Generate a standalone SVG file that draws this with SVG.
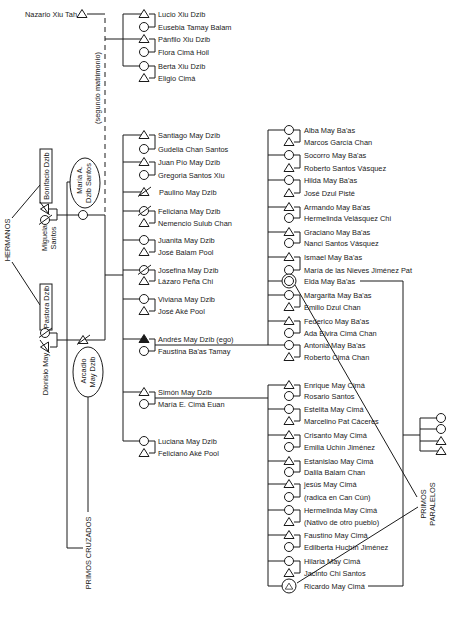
<svg xmlns="http://www.w3.org/2000/svg" xmlns:xlink="http://www.w3.org/1999/xlink" width="450" height="617" viewBox="0 0 450 617">
<style>
.ln{stroke:#1a1a1a;stroke-width:1;fill:none}
.dash{stroke-dasharray:5 4}
.sym{fill:#fff;stroke:#1a1a1a;stroke-width:1}
.blk{fill:#1a1a1a;stroke:#1a1a1a;stroke-width:1}
text{font-family:"Liberation Sans",Arial,Helvetica,sans-serif;font-size:7.4px;fill:#1a1a1a}
.rt{text-anchor:middle}
</style>
<defs>
<path id="tri" d="M0,-4.5 L5,3.5 L-5,3.5 Z"/>
<circle id="cir" r="4.5"/>
<path id="sl" d="M-6,4.5 L7,-5"/>
</defs>
<rect width="450" height="617" fill="#fff"/>
<g id="connectors" class="ln">
<path d="M87,14 H105"/>
<path class="dash" d="M105,18 V215"/>
<path d="M105,39 H144 M144,14 H123 V66 H144"/>
<path d="M149,14 H155 V27 H149 M149,39 H155 V52 H149 M149,66 H155 V78 H149"/>
<path d="M12,218 L40,185 M12,262 L40,305"/>
<path d="M49,209 H57 V220 H49 M57,215 H105 M105,215 V340 M50,333 H57 V347 H50 M57,340 H105 M105,275 H123"/>
<path d="M70,182 H67 V548 H83 M88,397 V512"/>
<path d="M144,135 H123 V441 H144 M123,162 H144 M123,192 H144 M123,211 H144 M123,240 H144 M123,270 H144 M123,299 H144 M123,339 H144 M123,392 H144"/>
<path d="M149,135 H155 V149 H149 M149,162 H155 V175 H149 M149,211 H155 V223 H149 M149,240 H155 V252 H149 M149,270 H155 V281 H149 M149,299 H155 V311 H149 M149,339 H155 V351 H149 M149,392 H155 V404 H149 M149,441 H155 V453 H149"/>
<path d="M155,345 H289 M155,398 H268"/>
<path d="M289,130 H268 V345 M268,155 H289 M268,180 H289 M268,207 H289 M268,232 H289 M268,257 H289 M268,281 H289 M268,295 H289 M268,321 H289"/>
<path d="M294,130 H300 V142 H294 M294,155 H300 V168 H294 M294,180 H300 V193 H294 M294,207 H300 V218 H294 M294,232 H300 V243 H294 M294,257 H300 V270 H294 M294,295 H300 V307 H294 M294,321 H300 V333 H294 M294,345 H300 V357 H294"/>
<path d="M289,385 H268 V586 H289 M268,409 H289 M268,435 H289 M268,461 H289 M268,484 H289 M268,510 H289 M268,535 H289 M268,561 H289"/>
<path d="M294,385 H300 V396 H294 M294,409 H300 V421 H294 M294,435 H300 V447 H294 M294,461 H300 V472 H294 M294,484 H300 V497 H294 M294,510 H300 V522 H294 M294,535 H300 V547 H294 M294,561 H300 V573 H294"/>
<path d="M360,281 H403 V586 H368 M403,435 H420 M420,418 V451 M420,418 H441 M420,429 H441 M420,441 H441 M420,451 H441"/>
<path d="M295,285 L417,497 M297,583 L418,507"/>
</g>
<g id="label-segundo"><text class="rt" transform="translate(99.6,88) rotate(-90)">(segundo matrimonio)</text></g>
<g id="label-hermanos"><text class="rt" transform="translate(10.1,240) rotate(-90)">HERMANOS</text></g>
<g id="label-primos-cruzados"><text class="rt" transform="translate(90.6,553) rotate(-90)">PRIMOS CRUZADOS</text></g>
<g id="label-primos-paralelos"><text class="rt" transform="translate(425.6,504) rotate(-90)">PRIMOS</text><text class="rt" transform="translate(434.6,504) rotate(-90)">PARALELOS</text></g>
<g id="nazario"><use href="#tri" class="sym" x="82" y="14"/><text x="77" y="16.7" text-anchor="end">Nazario Xiu Tah</text></g>
<g id="bonifacio"><rect class="sym" x="40" y="149" width="12" height="54"/><text class="rt" transform="translate(48.6,176) rotate(-90)">Bonifacio Dzib</text><g transform="translate(45,209) rotate(-90)"><use href="#tri" class="sym"/><use href="#sl" class="ln"/></g></g>
<g id="miguela"><use href="#cir" class="sym" x="45" y="220"/><use href="#sl" class="ln" x="45" y="220"/><text class="rt" transform="translate(47,238) rotate(-90)">Miguela</text><text class="rt" transform="translate(55.6,238) rotate(-90)">Santos</text></g>
<g id="maria-a"><ellipse class="sym" cx="85" cy="183" rx="15" ry="25"/><text class="rt" transform="translate(82.1,180) rotate(-90)">María A.</text><text class="rt" transform="translate(91.1,183) rotate(-90)">Dzib Santos</text><use href="#cir" class="sym" x="83" y="215"/></g>
<g id="pastora"><rect class="sym" x="40" y="284" width="12" height="46"/><text class="rt" transform="translate(48.6,307) rotate(-90)">Pastora Dzib</text><use href="#cir" class="sym" x="45" y="333"/><use href="#sl" class="ln" x="45" y="333"/></g>
<g id="dionisio"><g transform="translate(45,347) rotate(-90)"><use href="#tri" class="sym"/><use href="#sl" class="ln"/></g><text class="rt" transform="translate(48.1,374) rotate(-90)">Dionisio May</text></g>
<g id="arcadio"><use href="#tri" class="sym" x="83" y="340"/><use href="#sl" class="ln" x="83" y="340"/><ellipse class="sym" cx="88" cy="372" rx="15" ry="25"/><text class="rt" transform="translate(86.1,371) rotate(-90)">Arcadio</text><text class="rt" transform="translate(95.1,372) rotate(-90)">May Dzib</text></g>
<g id="lucio"><use href="#tri" class="sym" x="144" y="14"/><text x="158" y="16.7">Lucio Xiu Dzib</text></g>
<g id="eusebia"><use href="#cir" class="sym" x="144" y="27"/><text x="158" y="29.7">Eusebia Tamay Balam</text></g>
<g id="panfilo"><use href="#tri" class="sym" x="144" y="39"/><text x="158" y="41.7">Pánfilo Xiu Dzib</text></g>
<g id="flora"><use href="#cir" class="sym" x="144" y="52"/><text x="158" y="54.7">Flora Cimá Hoil</text></g>
<g id="berta"><use href="#cir" class="sym" x="144" y="66"/><text x="158" y="68.7">Berta Xiu Dzib</text></g>
<g id="eligio"><use href="#tri" class="sym" x="144" y="78"/><text x="158" y="80.7">Eligio Cimá</text></g>
<g id="santiago"><use href="#tri" class="sym" x="144" y="135"/><text x="158" y="137.7">Santiago May Dzib</text></g>
<g id="gudelia"><use href="#cir" class="sym" x="144" y="149"/><text x="158" y="151.7">Gudelia Chan Santos</text></g>
<g id="juan-pio"><use href="#tri" class="sym" x="144" y="162"/><text x="158" y="164.7">Juan Pío May Dzib</text></g>
<g id="gregoria"><use href="#cir" class="sym" x="144" y="175"/><text x="158" y="177.7">Gregoria Santos Xiu</text></g>
<g id="paulino"><use href="#tri" class="sym" x="144" y="192"/><use href="#sl" class="ln" x="144" y="192"/><text x="159" y="194.7">Paulino May Dzib</text></g>
<g id="feliciana"><use href="#cir" class="sym" x="144" y="211"/><use href="#sl" class="ln" x="144" y="211"/><text x="158" y="213.7">Feliciana May Dzib</text></g>
<g id="nemencio"><use href="#tri" class="sym" x="144" y="223"/><text x="158" y="225.7">Nemencio Sulub Chan</text></g>
<g id="juanita"><use href="#cir" class="sym" x="144" y="240"/><text x="158" y="242.7">Juanita May Dzib</text></g>
<g id="jose-balam"><use href="#tri" class="sym" x="144" y="252"/><text x="158" y="254.7">José Balam Pool</text></g>
<g id="josefina"><use href="#cir" class="sym" x="144" y="270"/><use href="#sl" class="ln" x="144" y="270"/><text x="158" y="272.7">Josefina May Dzib</text></g>
<g id="lazaro"><use href="#tri" class="sym" x="144" y="281"/><text x="158" y="283.7">Lázaro Peña Chi</text></g>
<g id="viviana"><use href="#cir" class="sym" x="144" y="299"/><text x="158" y="301.7">Viviana May Dzib</text></g>
<g id="jose-ake"><use href="#tri" class="sym" x="144" y="311"/><text x="158" y="313.7">José Aké Pool</text></g>
<g id="andres"><use href="#tri" class="blk" x="144" y="339"/><text x="158" y="341.7">Andrés May Dzib (ego)</text></g>
<g id="faustina"><use href="#cir" class="sym" x="144" y="351"/><text x="158" y="353.7">Faustina Ba'as Tamay</text></g>
<g id="simon"><use href="#tri" class="sym" x="144" y="392"/><text x="158" y="394.7">Simón May Dzib</text></g>
<g id="maria-e"><use href="#cir" class="sym" x="144" y="404"/><text x="158" y="406.7">María E. Cimá Euan</text></g>
<g id="luciana"><use href="#cir" class="sym" x="144" y="441"/><text x="158" y="443.7">Luciana May Dzib</text></g>
<g id="feliciano"><use href="#tri" class="sym" x="144" y="453"/><text x="158" y="455.7">Feliciano Aké Pool</text></g>
<g id="alba"><use href="#cir" class="sym" x="289" y="130"/><text x="304" y="132.7">Alba May Ba'as</text></g>
<g id="marcos"><use href="#tri" class="sym" x="289" y="142"/><text x="304" y="144.7">Marcos García Chan</text></g>
<g id="socorro"><use href="#cir" class="sym" x="289" y="155"/><text x="304" y="157.7">Socorro May Ba'as</text></g>
<g id="roberto-santos"><use href="#tri" class="sym" x="289" y="168"/><text x="304" y="170.7">Roberto Santos Vásquez</text></g>
<g id="hilda"><use href="#cir" class="sym" x="289" y="180"/><text x="304" y="182.7">Hilda May Ba'as</text></g>
<g id="jose-dzul"><use href="#tri" class="sym" x="289" y="193"/><text x="304" y="195.7">José Dzul Pisté</text></g>
<g id="armando"><use href="#tri" class="sym" x="289" y="207"/><text x="304" y="209.7">Armando May Ba'as</text></g>
<g id="hermelinda-v"><use href="#cir" class="sym" x="289" y="218"/><text x="304" y="220.7">Hermelinda Velásquez Chi</text></g>
<g id="graciano"><use href="#tri" class="sym" x="289" y="232"/><text x="304" y="234.7">Graciano May Ba'as</text></g>
<g id="nanci"><use href="#cir" class="sym" x="289" y="243"/><text x="304" y="245.7">Nanci Santos Vásquez</text></g>
<g id="ismael"><use href="#tri" class="sym" x="289" y="257"/><text x="304" y="259.7">Ismael May Ba'as</text></g>
<g id="maria-nieves"><use href="#cir" class="sym" x="289" y="270"/><text x="304" y="272.7">María de las Nieves Jiménez Pat</text></g>
<g id="elda"><circle class="sym" cx="289" cy="281" r="7"/><use href="#cir" class="sym" x="289" y="281"/><text x="304" y="283.7">Elda May Ba'as</text></g>
<g id="margarita"><use href="#cir" class="sym" x="289" y="295"/><text x="304" y="297.7">Margarita May Ba'as</text></g>
<g id="emilio"><use href="#tri" class="sym" x="289" y="307"/><text x="304" y="309.7">Emilio Dzul Chan</text></g>
<g id="federico"><use href="#tri" class="sym" x="289" y="321"/><text x="304" y="323.7">Federico May Ba'as</text></g>
<g id="ada"><use href="#cir" class="sym" x="289" y="333"/><text x="304" y="335.7">Ada Elvira Cimá Chan</text></g>
<g id="antonia"><use href="#cir" class="sym" x="289" y="345"/><text x="304" y="347.7">Antonia May Ba'as</text></g>
<g id="roberto-cima"><use href="#tri" class="sym" x="289" y="357"/><text x="304" y="359.7">Roberto Cimá Chan</text></g>
<g id="enrique"><use href="#tri" class="sym" x="289" y="385"/><text x="304" y="387.7">Enrique May Cimá</text></g>
<g id="rosario"><use href="#cir" class="sym" x="289" y="396"/><text x="304" y="398.7">Rosario Santos</text></g>
<g id="estelita"><use href="#cir" class="sym" x="289" y="409"/><text x="304" y="411.7">Estelita May Cimá</text></g>
<g id="marcelino"><use href="#tri" class="sym" x="289" y="421"/><text x="304" y="423.7">Marcelino Pat Cáceres</text></g>
<g id="crisanto"><use href="#tri" class="sym" x="289" y="435"/><text x="304" y="437.7">Crisanto May Cimá</text></g>
<g id="emilia"><use href="#cir" class="sym" x="289" y="447"/><text x="304" y="449.7">Emilia Uchín Jiménez</text></g>
<g id="estanislao"><use href="#tri" class="sym" x="289" y="461"/><text x="304" y="463.7">Estanislao May Cimá</text></g>
<g id="dalila"><use href="#cir" class="sym" x="289" y="472"/><text x="304" y="474.7">Dalila Balam Chan</text></g>
<g id="jesus"><use href="#tri" class="sym" x="289" y="484"/><text x="304" y="486.7">jesús May Cimá</text></g>
<g id="radica"><use href="#cir" class="sym" x="289" y="497"/><text x="304" y="499.7">(radica en Can Cún)</text></g>
<g id="hermelinda-m"><use href="#cir" class="sym" x="289" y="510"/><text x="304" y="512.7">Hermelinda May Cimá</text></g>
<g id="nativo"><use href="#tri" class="sym" x="289" y="522"/><text x="304" y="524.7">(Nativo de otro pueblo)</text></g>
<g id="faustino"><use href="#tri" class="sym" x="289" y="535"/><text x="304" y="537.7">Faustino May Cimá</text></g>
<g id="edilberta"><use href="#cir" class="sym" x="289" y="547"/><text x="304" y="549.7">Edilberta Huchín Jiménez</text></g>
<g id="hilaria"><use href="#cir" class="sym" x="289" y="561"/><text x="304" y="563.7">Hilaria May Cimá</text></g>
<g id="jacinto"><use href="#tri" class="sym" x="289" y="573"/><text x="304" y="575.7">Jacinto Chi Santos</text></g>
<g id="ricardo"><circle class="sym" cx="289" cy="586" r="7"/><use href="#tri" class="sym" x="289" y="586.5" transform="translate(289,586.5) scale(0.75) translate(-289,-586.5)"/><text x="304" y="588.7">Ricardo May Cimá</text></g>
<g id="paralelos-group"><use href="#cir" class="sym" x="441" y="418"/><use href="#cir" class="sym" x="441" y="429"/><use href="#tri" class="sym" x="441" y="441"/><use href="#tri" class="sym" x="441" y="451"/></g>
</svg>
